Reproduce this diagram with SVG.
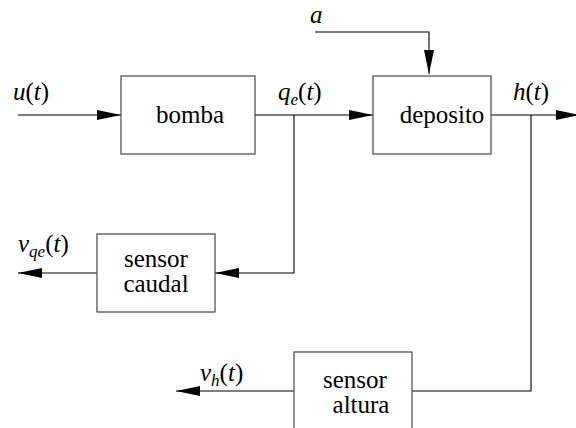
<svg xmlns="http://www.w3.org/2000/svg" width="576" height="428" viewBox="0 0 576 428">
<defs>
<style>
.box{fill:#fff;stroke:#555;stroke-width:1.3}
.ln{fill:none;stroke:#000;stroke-width:1.1}
.t,.m{font-family:"Liberation Serif","Times New Roman",Tinos,"Nimbus Roman","FreeSerif","Noto Serif","DejaVu Serif",Times,serif;font-size:25px;fill:#000}
.i{font-style:italic}
.s{font-size:17px;font-style:italic}
</style>
<marker id="ah" markerUnits="userSpaceOnUse" markerWidth="25" markerHeight="11" refX="24" refY="5" orient="auto">
<path d="M0,0 L24,5 L0,10 z" fill="#000"/>
</marker>
</defs>
<g id="connectors">
<path class="ln" d="M18,115 H121" marker-end="url(#ah)"/>
<path class="ln" d="M255,115 H373" marker-end="url(#ah)"/>
<path class="ln" d="M315,32 H429 V74" marker-end="url(#ah)"/>
<path class="ln" d="M491,115 H580" marker-end="url(#ah)"/>
<path class="ln" d="M294,115 V273 H215" marker-end="url(#ah)"/>
<path class="ln" d="M97,273 H18" marker-end="url(#ah)"/>
<path class="ln" d="M531,115 V391 H412"/>
<path class="ln" d="M294,391 H176" marker-end="url(#ah)"/>
</g>
<g id="bomba">
<rect class="box" x="121" y="76" width="134" height="78"/>
<text class="t" x="190" y="123" text-anchor="middle">bomba</text>
</g>
<g id="deposito">
<rect class="box" x="373" y="76" width="118" height="78"/>
<text class="t" x="442" y="123" text-anchor="middle">deposito</text>
</g>
<g id="sensor-caudal">
<rect class="box" x="97" y="234" width="118" height="78"/>
<text class="t" x="156" y="267" text-anchor="middle">sensor</text>
<text class="t" x="156" y="292" text-anchor="middle">caudal</text>
</g>
<g id="sensor-altura">
<rect class="box" x="294" y="352" width="118" height="80"/>
<text class="t" x="355" y="388" text-anchor="middle">sensor</text>
<text class="t" x="361" y="413" text-anchor="middle">altura</text>
</g>
<g id="labels">
<text class="m" x="13" y="100"><tspan class="i">u</tspan>(<tspan class="i">t</tspan>)</text>
<text class="m" x="278" y="100"><tspan class="i">q</tspan><tspan class="s" dy="5">e</tspan><tspan dy="-5">(</tspan><tspan class="i">t</tspan>)</text>
<text class="m" x="310" y="23"><tspan class="i">a</tspan></text>
<text class="m" x="513" y="100"><tspan class="i">h</tspan>(<tspan class="i">t</tspan>)</text>
<text class="m" x="18" y="252"><tspan class="i">v</tspan><tspan class="s" dy="5">qe</tspan><tspan dy="-5">(</tspan><tspan class="i">t</tspan>)</text>
<text class="m" x="200" y="381"><tspan class="i">v</tspan><tspan class="s" dy="5">h</tspan><tspan dy="-5">(</tspan><tspan class="i">t</tspan>)</text>
</g>
</svg>
